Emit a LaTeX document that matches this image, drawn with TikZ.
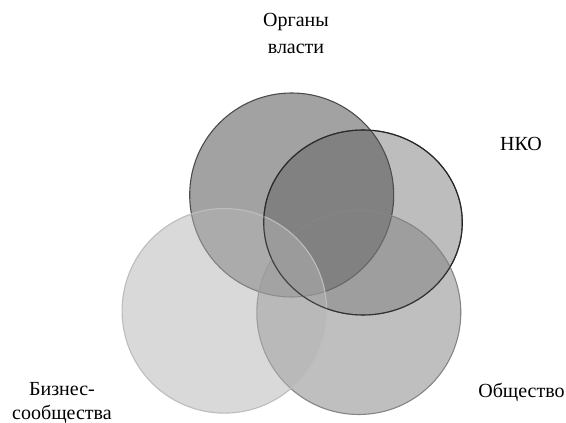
\documentclass[tikz,border=0pt]{standalone}
\usepackage{fontspec}
\setmainfont{Liberation Serif}
\definecolor{orgfill}{gray}{0.28}
\definecolor{nkofill}{gray}{0.49}
\definecolor{bizfill}{gray}{0.71}
\definecolor{obsfill}{gray}{0.506}
\definecolor{orgline}{gray}{0.30}
\definecolor{nkoline}{gray}{0.15}
\definecolor{bizline}{gray}{0.74}
\definecolor{obsline}{gray}{0.52}
\tikzset{
  venn/.style={fill opacity=0.5, line width=1.1pt},
  lbl/.style={anchor=base, align=center, inner sep=0pt, font=\fontsize{20}{27}\selectfont}
}
\begin{document}
\begin{tikzpicture}[x=1pt,y=-1pt]
\useasboundingbox (0,0) rectangle (566,423);
\fill[white] (0,0) rectangle (566,423);
% circles
\draw[venn, fill=nkofill, draw=nkoline] (363,222.5) ellipse[x radius=99.3, y radius=92.5];
\draw[venn, fill=orgfill, draw=orgline] (291.7,195) circle[radius=102];
\draw[venn, fill=obsfill, draw=obsline] (358.8,312.5) circle[radius=102];
\draw[venn, fill=bizfill, draw=bizline] (224.4,310.8) circle[radius=102.3];
% redraw the NKO outline on top, as in the reference
\draw[line width=1.1pt, draw=nkoline, draw opacity=0.75] (363,222.5) ellipse[x radius=99.3, y radius=92.5];
% labels (anchor = baseline of last line)
\node[lbl] (org) at (296,53) {Органы\\власти};
\node[lbl] (nko) at (521,150) {НКО};
\node[lbl, font=\fontsize{20}{24}\selectfont] (biz) at (62,419.5) {Бизнес-\\сообщества};
\node[lbl] (obs) at (521.5,397) {Общество};
\end{tikzpicture}
\end{document}
